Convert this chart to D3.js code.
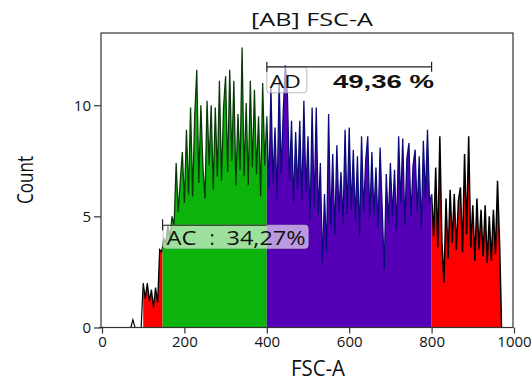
<!DOCTYPE html>
<html>
<head>
<meta charset="utf-8">
<script src="https://cdn.jsdelivr.net/npm/d3@7"></script>
<style>
  body { margin: 0; background: #fff; }
  text { font-family: "Open Sans", sans-serif; fill: #111; }
</style>
</head>
<body>
<div id="chart"></div>
<script>

// histogram bins, 5 units wide, first bin at 70
var binStart = 70;
var binWidth = 5;
var counts = [
  0, 0.35, 0, 0, 0, 0,
  2.0, 1.3, 2.0, 1.2, 1.7, 0.9, 1.8, 1.1,
  3.5, 3.4, 4.0, 3.8, 4.6, 4.0, 5.0, 4.6,
  7.4, 5.2, 6.6, 7.9, 5.6, 8.9, 6.0, 9.9,
  5.9, 9.5, 11.6, 6.5, 10.0, 7.2, 5.8, 10.2,
  7.3, 10.0, 6.2, 9.9, 6.8, 11.1, 6.6, 9.9,
  11.3, 7.0, 11.6, 7.5, 11.1, 6.4, 9.6, 7.1,
  12.6, 6.8, 10.1, 6.4, 11.1, 7.2, 10.7, 6.9,
  9.5, 5.9, 11.0, 7.3,
  9.5, 6.2, 10.8, 6.5, 9.0, 5.8, 11.1, 6.9,
  9.8, 11.8, 10.5, 6.6, 9.3, 5.6, 8.8, 6.2,
  9.3, 5.7, 10.2, 6.1, 8.6, 4.8, 9.9, 5.4,
  9.9, 5.1, 7.4, 2.9, 6.0, 3.4, 9.6, 4.6,
  7.8, 4.2, 8.2, 5.2, 7.0, 4.7, 8.9, 5.1,
  9.0, 5.3, 8.0, 4.8, 7.7, 4.1, 8.6, 5.2,
  7.5, 8.6, 4.9, 7.9, 5.1, 7.2, 4.5, 8.1,
  5.4, 2.6, 6.9, 4.7, 7.4, 5.0, 7.1, 4.4,
  8.6, 5.6, 8.5, 4.6, 7.6, 8.3, 5.0, 7.3,
  8.0, 5.2, 7.7, 4.4, 8.4, 5.8, 8.9, 5.6,
  6.0, 4.1, 7.2, 3.6, 8.6, 3.9, 2.0, 5.8,
  3.1, 6.2, 3.8, 6.0, 3.5, 5.7, 6.3, 3.4,
  7.8, 4.2, 8.6, 3.6, 5.5, 3.0, 5.8, 3.5,
  5.3, 3.2, 5.5, 2.9, 5.0, 3.0, 5.3, 3.3,
  6.6, 3.8, 0
];

// colour regions along FSC-A
var regionEdges = [100, 147, 400, 800, 972];
var regionFill = ["#ff0000", "#0bb30b", "#5500b6", "#ff0000"];
var regionLine = ["#000000", "#0a3a0a", "#0a0a7a", "#000000"];

// gates
var gateNames = ["AC", "AD"];
var gateFrom = [147, 400];
var gateTo = [400, 800];
var gateLevel = [4.6, 11.73];
var gatePct = ["34,27%", "49,36 %"];

var xTicks = [0, 200, 400, 600, 800, 1000];
var yTicks = [0, 5, 10];

var W = 531, H = 381;
var svg = d3.select("#chart").append("svg")
  .attr("width", W).attr("height", H);

var x = d3.scaleLinear().domain([0, 1000]).range([102, 514]);
var y = d3.scaleLinear().domain([0, 13.25]).range([327.5, 33]);

var pts = counts.map(function(c, i) { return [binStart + i * binWidth, c]; });

var area = d3.area()
  .x(function(d) { return x(d[0]); })
  .y0(y(0))
  .y1(function(d) { return y(d[1]); });
var line = d3.line()
  .x(function(d) { return x(d[0]); })
  .y(function(d) { return y(d[1]); });

var defs = svg.append("defs");
for (var r = 0; r < regionFill.length; r++) {
  defs.append("clipPath").attr("id", "reg" + r)
    .append("rect")
    .attr("x", x(regionEdges[r]))
    .attr("y", 0)
    .attr("width", x(regionEdges[r + 1]) - x(regionEdges[r]))
    .attr("height", H);
}

// black outline outside coloured regions (small event at ~75)
svg.append("path").attr("d", line(pts.slice(0, 7)))
  .attr("fill", "none").attr("stroke", "#000").attr("stroke-width", 1.2);

for (var r = 0; r < regionFill.length; r++) {
  svg.append("path").attr("d", area(pts))
    .attr("clip-path", "url(#reg" + r + ")")
    .attr("fill", regionFill[r]);
  svg.append("path").attr("d", line(pts))
    .attr("clip-path", "url(#reg" + r + ")")
    .attr("fill", "none")
    .attr("stroke", regionLine[r])
    .attr("stroke-width", r == 3 ? 1.5 : 1.3);
}

// frame
svg.append("rect")
  .attr("x", x(0) - 1).attr("y", y(13.25))
  .attr("width", x(1000) - x(0)).attr("height", y(0) - y(13.25))
  .attr("fill", "none").attr("stroke", "#333").attr("stroke-width", 1.2);

// y axis
var yAxis = svg.append("g").attr("transform", "translate(" + (x(0) - 1) + ",0)");
yAxis.call(d3.axisLeft(y).tickValues(d3.range(0, 14)).tickSize(4).tickFormat(""));
yAxis.call(d3.axisLeft(y).tickValues(yTicks).tickSize(7).tickPadding(3)
  .tickFormat(d3.format("d")));
yAxis.selectAll(".domain").remove();
yAxis.selectAll("line").attr("stroke", "#333").attr("stroke-width", 1.2);
yAxis.selectAll("text").style("font-size", "15px").style("font-family", "Open Sans");

// x axis
var xAxis = svg.append("g").attr("transform", "translate(0," + y(0) + ")");
xAxis.call(d3.axisBottom(x).tickValues(d3.range(0, 1100, 100)).tickSize(4).tickFormat(""));
xAxis.call(d3.axisBottom(x).tickValues(xTicks).tickSize(6).tickPadding(3)
  .tickFormat(d3.format("d")));
xAxis.selectAll(".domain").remove();
xAxis.selectAll("line").attr("stroke", "#333").attr("stroke-width", 1.2);
xAxis.selectAll("text").style("font-size", "15px").style("font-family", "Open Sans");
svg.append("line")
  .attr("x1", x(0) - 3).attr("x2", x(0) + 2)
  .attr("y1", y(0)).attr("y2", y(0))
  .attr("stroke", "#333").attr("stroke-width", 1.2);

// gate AC
var acY = y(gateLevel[0]);
var g0 = svg.append("g");
g0.append("rect")
  .attr("x", x(gateFrom[0]) + 0.5).attr("y", acY)
  .attr("width", 145).attr("height", 23).attr("rx", 3)
  .attr("fill", "#fff").attr("fill-opacity", 0.6)
  .attr("stroke", "#bbb").attr("stroke-width", 0.8);
g0.append("line")
  .attr("x1", x(gateFrom[0])).attr("x2", x(gateTo[0]))
  .attr("y1", acY).attr("y2", acY)
  .attr("stroke", "#222").attr("stroke-width", 1.2);
g0.append("line")
  .attr("x1", x(gateFrom[0])).attr("x2", x(gateFrom[0]))
  .attr("y1", acY - 6).attr("y2", acY + 5)
  .attr("stroke", "#222").attr("stroke-width", 1.2);
var acX = x(gateFrom[0]);
g0.append("text")
  .attr("x", acX + 4).attr("y", acY + 20)
  .attr("textLength", 30).attr("lengthAdjust", "spacingAndGlyphs")
  .style("font-size", "20px")
  .text(gateNames[0]);
g0.append("text")
  .attr("x", acX + 47).attr("y", acY + 20)
  .style("font-size", "20px")
  .text(":");
g0.append("text")
  .attr("x", acX + 64).attr("y", acY + 20)
  .attr("textLength", 79).attr("lengthAdjust", "spacingAndGlyphs")
  .style("font-size", "20px")
  .text(gatePct[0]);

// gate AD
var adY = y(gateLevel[1]);
var g1 = svg.append("g");
g1.append("rect")
  .attr("x", x(gateFrom[1])).attr("y", adY)
  .attr("width", 40).attr("height", 26).attr("rx", 3)
  .attr("fill", "#fff").attr("fill-opacity", 0.6)
  .attr("stroke", "#aaa").attr("stroke-width", 0.8);
g1.append("line")
  .attr("x1", x(gateFrom[1])).attr("x2", x(gateTo[1]))
  .attr("y1", adY).attr("y2", adY)
  .attr("stroke", "#222").attr("stroke-width", 1.2);
[gateFrom[1], gateTo[1]].forEach(function(v) {
  g1.append("line")
    .attr("x1", x(v)).attr("x2", x(v))
    .attr("y1", adY - 5).attr("y2", adY + 5)
    .attr("stroke", "#222").attr("stroke-width", 1.2);
});
g1.append("text")
  .attr("x", x(gateFrom[1]) + 3).attr("y", adY + 21)
  .attr("textLength", 31).attr("lengthAdjust", "spacingAndGlyphs")
  .style("font-size", "19px")
  .text(gateNames[1]);
g1.append("text")
  .attr("x", 333).attr("y", adY + 21)
  .attr("textLength", 101).attr("lengthAdjust", "spacingAndGlyphs")
  .style("font-family", "Liberation Sans").style("font-weight", "bold")
  .style("font-size", "18px")
  .text(gatePct[1]);

// titles
svg.append("text")
  .attr("x", 312).attr("y", 26).attr("text-anchor", "middle")
  .attr("textLength", 122).attr("lengthAdjust", "spacingAndGlyphs")
  .style("font-size", "18px")
  .text("[AB] FSC-A");
svg.append("text")
  .attr("x", 318).attr("y", 376).attr("text-anchor", "middle")
  .attr("textLength", 54).attr("lengthAdjust", "spacingAndGlyphs")
  .style("font-size", "21px")
  .text("FSC-A");
svg.append("text")
  .attr("transform", "translate(33,180) rotate(-90)")
  .attr("text-anchor", "middle")
  .attr("textLength", 48).attr("lengthAdjust", "spacingAndGlyphs")
  .style("font-size", "21px")
  .text("Count");

</script>
</body>
</html>
